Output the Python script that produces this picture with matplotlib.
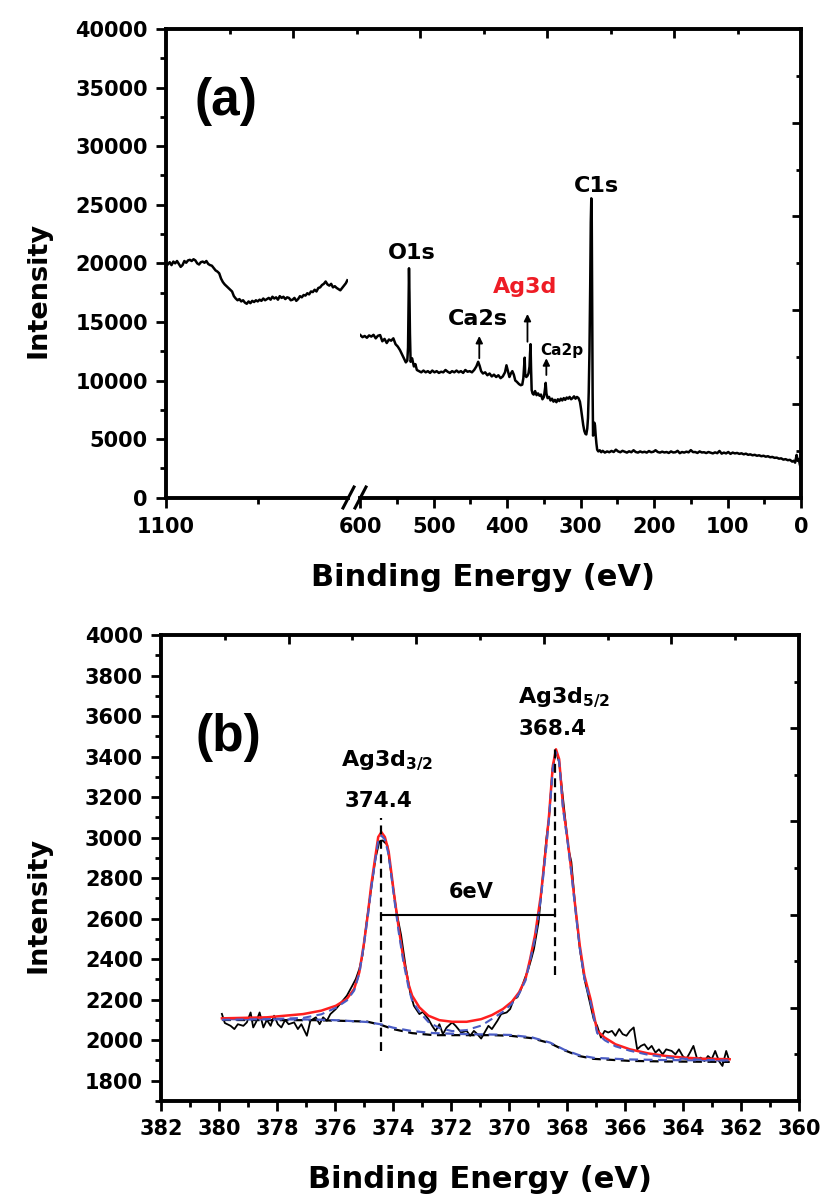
import matplotlib
matplotlib.use("Agg")
import matplotlib.pyplot as plt
from matplotlib.lines import Line2D
from matplotlib.ticker import MultipleLocator, FixedLocator

plt.rcParams['font.family'] = ['DejaVu Sans']
plt.rcParams['font.weight'] = 'bold'
plt.rcParams['mathtext.default'] = 'bf'

# ---- (a) survey spectrum, high-BE segment (left of the axis break)
survey_ev_hi = [1100, 1095, 1090, 1085, 1080, 1075, 1070, 1065, 1060, 1055, 1050, 1045,
                1040, 1035, 1030, 1025, 1020, 1015, 1010, 1005, 1000, 995, 990, 985,
                980, 975, 970, 965, 960, 955, 950, 945, 940, 935, 930, 925, 920, 915,
                910, 905, 900, 895, 890, 885, 880, 875, 870, 865, 860, 855, 850, 845,
                840, 835, 830, 825, 820, 815, 810, 805, 800, 795, 790, 785, 780, 775,
                770, 765, 760, 755, 750, 745, 740, 735, 730, 725, 720, 715, 710, 705,
                700, 695, 690, 685, 680, 675, 670, 665, 660, 655, 650, 645, 640, 635,
                630, 625, 620, 615, 610, 606]
survey_cps_hi = [20050, 19900, 20100, 19850, 20150, 20000, 20200, 19950, 19700, 19850, 20200, 20050,
                 20250, 20300, 20200, 20350, 20250, 20000, 19900, 20100, 20150, 20050, 20200, 19950,
                 19850, 19800, 19600, 19400, 19300, 19150, 18700, 18400, 18200, 18050, 17900, 17750, 17600, 17200,
                 17000, 16850, 16950, 16750, 16850, 16650, 16550, 16750, 16600, 16800, 16700, 16850, 16750, 16900,
                 16800, 17000, 16850, 16950, 17050, 16900, 17150, 17000, 17100, 16900, 17200, 17050, 17150, 16950,
                 17100, 17050, 16850, 16900, 17050, 16800, 16950, 17200, 17100, 17300, 17250, 17450, 17350, 17600,
                 17550, 17750, 17600, 17900, 17950, 18150, 18250, 18450, 18200, 18100, 18250, 17950, 18050, 17900,
                 17800, 17700, 17900, 18100, 18300, 18550]

# ---- (a) survey spectrum, 600-0 eV segment
survey_ev_lo = [600, 597, 594, 591, 588, 585, 582, 579, 576, 573, 570, 567, 564, 561, 558, 555,
                552, 549, 546, 543, 540, 538, 536, 535, 534.3, 533.7, 533.1, 532.4, 531.5, 529.5,
                527, 525, 523, 520, 517, 514, 511, 508, 505, 502, 499, 496, 493, 490, 487,
                484, 481, 478, 475, 472, 469, 466, 463, 460, 457, 454, 451, 448, 445, 442,
                439.5, 437.5, 435.5, 433, 430, 427, 424, 421, 418, 415, 412, 409, 406, 403,
                401, 399, 397, 395, 393, 391, 389, 387, 384, 381.5, 379.5, 378, 376.8, 376.2, 375.5,
                374, 372.5, 371, 369.6, 368.9, 368.2, 367.5, 366.7, 365.5, 364, 362, 360, 358, 356,
                354, 352, 350, 348.5, 347.6, 346.6, 345, 343, 341, 339, 337, 335, 333, 331,
                329, 327, 325, 323, 321, 319, 317, 315, 313, 311, 309, 307, 305, 303, 301,
                299.5, 298, 296.5, 295, 293.5, 292.3, 291, 290, 289, 288, 287, 286.2, 285.5,
                284.9, 284.3, 283.7, 283.1, 282.3, 281.4, 280.5, 279.5, 278.5, 277.5, 276, 274,
                272, 270, 267, 264, 261, 258, 255, 252, 249, 246, 243, 240, 237, 234, 231,
                228, 225, 222, 219, 216, 213, 210, 207, 204, 201, 198, 195, 192, 189, 186,
                183, 180, 177, 174, 171, 168, 165, 162, 159, 156, 153, 150, 147, 144, 141,
                138, 135, 132, 129, 126, 123, 120, 117, 114, 111, 108, 105, 102, 99, 96,
                93, 90, 87, 84, 81, 78, 75, 72, 69, 66, 63, 60, 57, 54, 51,
                48, 45, 42, 39, 36, 33, 30, 27, 24, 21, 18, 15, 12, 10, 8,
                6, 4.5, 3, 1.5, 0]
survey_cps_lo = [13880, 13700, 13800, 13650, 13850, 13750, 13900, 13600, 13820, 13880, 13350, 13550, 13200, 13500, 13400, 13600,
                 13100, 12900, 12600, 12200, 11800, 11550, 11700, 12800, 16500, 19580, 17500, 14000, 11600, 11900,
                 11200, 11400, 10900, 10800, 10700, 10850, 10700, 10800, 10650, 10850, 10700, 10800, 10650, 10750, 10700,
                 10900, 10750, 10650, 10800, 10700, 10850, 10700, 10800, 10650, 10900, 10750, 10800, 10700, 10900, 11200,
                 11600, 11250, 10800, 10600, 10700, 10450, 10600, 10350, 10500, 10300, 10450, 10200, 10350, 10700,
                 11300, 10800, 10300, 10600, 10800, 10500, 10000, 9900, 9700, 9600, 9650, 10200, 11300, 11950, 10500,
                 10300, 10400, 10600, 11200, 12300, 13100, 11000, 9200, 8900, 8800, 9100, 8750, 8900, 8700,
                 8800, 8400, 8600, 9300, 9800, 8900, 8500, 8600, 8300, 8450, 8200, 8350, 8150, 8400,
                 8250, 8450, 8300, 8500, 8350, 8550, 8450, 8600, 8400, 8500, 8650, 8450, 8600, 8500, 8200,
                 7600, 6900, 6200, 5700, 5450, 5400, 5900, 6800, 9000, 12500, 18000, 23500, 25550,
                 24000, 16000, 9000, 5300, 5600, 6400, 6200, 5300, 4600, 4100, 3950, 4050,
                 3880, 4000, 3850, 3950, 3880, 3990, 3900, 4100, 3950, 3880, 4000, 3920, 3850, 3960, 3880,
                 4050, 3900, 3850, 3950, 3870, 3920, 3850, 3980, 3880, 3920, 4050, 3900, 3850, 3930, 3860,
                 3900, 3820, 3950, 3860, 3880, 4000, 3800, 3900, 3850, 3930, 3870, 4060, 3890, 3900, 3820,
                 3950, 3860, 3880, 3810, 3900, 3840, 3780, 3870, 3800, 3990, 3760, 3850, 3780, 3900, 3740,
                 3850, 3780, 3820, 3740, 3790, 3700, 3760, 3660, 3700, 3620, 3660, 3580, 3620, 3540, 3580,
                 3500, 3540, 3450, 3480, 3400, 3420, 3330, 3360, 3250, 3290, 3200, 3230, 3080, 3150, 2990,
                 3650, 3150, 3300, 2800, 2550]

survey_labels = ['O1s', 'Ca2s', 'Ag3d', 'Ca2p', 'C1s']
survey_label_ev = [530.3, 440, 376.2, 326, 279]
survey_label_cps = [20900, 15280, 17940, 12520, 26600]
survey_label_size = [16, 16, 16, 11, 16]
survey_label_color = ['black', 'black', '#ee1c25', 'black', 'black']
arrow_ev = [438, 372.4, 346.7]
arrow_from = [11900, 13310, 10470]
arrow_to = [13800, 15680, 11900]

# ---- (b) Ag 3d high resolution
ag_ev = [379.9, 379.8, 379.6, 379.47, 379.35, 379.16, 379.04, 378.91, 378.82, 378.72, 378.6,
         378.47, 378.35, 378.22, 378.1, 377.97, 377.85, 377.72, 377.6, 377.41, 377.28, 377.16,
         376.97, 376.85, 376.66, 376.53, 376.41, 376.28, 376.16, 375.97, 375.78, 375.59, 375.4,
         375.28, 375.16, 375.05, 374.91, 374.75, 374.6, 374.47, 374.36, 374.2, 374.04, 373.88,
         373.72, 373.57, 373.41, 373.28, 373.09, 372.97, 372.78, 372.65, 372.53, 372.4, 372.28,
         372.15, 371.96, 371.84, 371.65, 371.46, 371.34, 371.21, 371.09, 370.96, 370.84, 370.71,
         370.59, 370.4, 370.27, 370.08, 369.96, 369.83, 369.71, 369.58, 369.46, 369.33, 369.23,
         369.14, 368.98, 368.82, 368.71, 368.62, 368.5, 368.38, 368.27, 368.11, 367.95, 367.85,
         367.72, 367.56, 367.4, 367.24, 367.08, 366.96, 366.83, 366.7, 366.58, 366.45, 366.33,
         366.2, 366.08, 365.95, 365.83, 365.7, 365.58, 365.45, 365.33, 365.2, 365.08, 364.95,
         364.83, 364.7, 364.58, 364.39, 364.26, 364.14, 364.01, 363.89, 363.76, 363.64, 363.51,
         363.39, 363.26, 363.14, 363.01, 362.89, 362.76, 362.64, 362.51, 362.42]
ag_cps = [2130, 2085, 2071, 2055, 2079, 2071, 2088, 2137, 2063, 2090, 2137,
          2063, 2100, 2071, 2121, 2079, 2063, 2100, 2079, 2088, 2055, 2079,
          2022, 2096, 2113, 2079, 2113, 2096, 2129, 2154, 2187, 2220, 2270,
          2303, 2352, 2420, 2584, 2750, 2899, 2981, 2986, 2965, 2799, 2634,
          2518, 2369, 2237, 2170, 2129, 2140, 2104, 2071, 2046, 2079, 2030,
          2063, 2088, 2071, 2038, 2046, 2022, 2046, 2030, 2008, 2038, 2071,
          2055, 2096, 2129, 2137, 2154, 2204, 2212, 2253, 2303, 2352, 2402,
          2450, 2584, 2832, 2998, 3093, 3338, 3428, 3370, 3158, 2945, 2880,
          2667, 2452, 2303, 2204, 2104, 2071, 2013, 2046, 2038, 2046, 2022,
          2055, 2030, 2022, 2046, 2063, 1955, 1972, 1980, 1955, 1972, 1939,
          1955, 1930, 1955, 1947, 1930, 1955, 1922, 1906, 1939, 1972, 1906,
          1914, 1897, 1922, 1906, 1947, 1897, 1873, 1947, 1906]

fit_ev = [379.9, 378.35, 377.1, 376.47, 375.97, 375.59, 375.34, 375.16, 375.0, 374.87, 374.75,
          374.6, 374.51, 374.4, 374.28, 374.15, 373.96, 373.8, 373.64, 373.45, 373.34, 373.09,
          372.78, 372.4, 371.96, 371.46, 370.96, 370.59, 370.21, 369.9, 369.65, 369.43, 369.27,
          369.1, 368.9, 368.74, 368.62, 368.49, 368.38, 368.27, 368.14, 367.98, 367.87, 367.72,
          367.56, 367.4, 367.19, 366.96, 366.7, 366.33, 365.83, 365.2, 364.58, 363.95, 363.33, 362.39]
fit_cps = [2108, 2113, 2129, 2146, 2170, 2204, 2253, 2336, 2480, 2620, 2767,
           2915, 3003, 3027, 3003, 2932, 2717, 2551, 2402, 2270, 2220, 2162,
           2121, 2099, 2091, 2091, 2104, 2124, 2154, 2190, 2237, 2303, 2402,
           2520, 2717, 2932, 3109, 3354, 3436, 3387, 3158, 2990, 2860, 2667,
           2468, 2319, 2204, 2046, 2013, 1980, 1955, 1935, 1922, 1914, 1909, 1906]
comp_cps = [2101, 2104, 2110, 2128, 2160, 2196, 2245, 2330, 2475, 2610, 2750,
            2900, 2985, 3010, 2990, 2915, 2700, 2530, 2385, 2250, 2195, 2140,
            2090, 2060, 2045, 2050, 2072, 2105, 2140, 2180, 2230, 2295, 2395,
            2505, 2700, 2915, 3095, 3340, 3422, 3375, 3145, 2980, 2850, 2655,
            2455, 2305, 2190, 2035, 2000, 1970, 1948, 1928, 1915, 1908, 1903, 1900]

bg_ev = [379.9, 378.0, 376.7, 375.84, 374.9, 374.4, 374.0, 373.34, 372.59, 371.46, 370.59,
         369.96, 369.21, 368.58, 368.08, 367.58, 367.08, 365.83, 364.58, 362.39]
bg_shirley = [2100, 2099, 2099, 2096, 2092, 2075, 2055, 2035, 2025, 2025, 2025,
              2022, 2010, 1985, 1950, 1922, 1908, 1898, 1895, 1893]
bg_fit = [2104, 2103, 2102, 2098, 2090, 2078, 2062, 2045, 2035, 2030, 2028,
          2026, 2014, 1988, 1952, 1926, 1913, 1905, 1902, 1900]

peak_ev = [374.4, 368.4]
peak_names = ['Ag3d$_{3/2}$', 'Ag3d$_{5/2}$']
peak_line_lo = [1947, 2320]
peak_line_hi = [3096, 3460]
split_cps = 2620

W, H = 821, 1196
fig = plt.figure(figsize=(W / 100, H / 100), dpi=100)


def rect(x0, y0, x1, y1):
    return [x0 / W, 1 - y1 / H, (x1 - x0) / W, (y1 - y0) / H]


TICK = 15
SPW = 2.8


def style_frame(fr):
    # mirrored top/right ticks, pointing inwards
    fr.set_xlim(0, 10)
    fr.set_ylim(0, 10)
    fr.patch.set_visible(False)
    for s in ['left', 'bottom']:
        fr.spines[s].set_visible(False)
    for s in ['top', 'right']:
        fr.spines[s].set_linewidth(SPW)
    fr.xaxis.set_major_locator(FixedLocator([2, 4, 6, 8]))
    fr.xaxis.set_minor_locator(FixedLocator([1, 3, 5, 7, 9]))
    fr.yaxis.set_major_locator(FixedLocator([2, 4, 6, 8]))
    fr.yaxis.set_minor_locator(FixedLocator([1, 3, 5, 7, 9]))
    fr.tick_params(which='both', direction='in', width=2, top=True, right=True,
                   bottom=False, left=False, labeltop=False, labelright=False,
                   labelbottom=False, labelleft=False)
    fr.tick_params(which='major', length=6.5)
    fr.tick_params(which='minor', length=3.6)


def style_main(ax):
    ax.patch.set_visible(False)
    for s in ax.spines.values():
        s.set_linewidth(SPW)
    ax.tick_params(which='both', direction='out', width=2, labelsize=TICK)
    ax.tick_params(which='major', length=7)
    ax.tick_params(which='minor', length=4)


# ================= panel (a) =================
top_a, bot_a = 29, 497.7
fa = fig.add_axes(rect(166, top_a, 801, bot_a))
style_frame(fa)

axl = fig.add_axes(rect(166, top_a, 348, bot_a))
axr = fig.add_axes(rect(360, top_a, 801, bot_a))
for ax in (axl, axr):
    style_main(ax)
    ax.set_ylim(0, 40000)
    ax.spines['top'].set_visible(False)
    ax.spines['right'].set_visible(False)

axl.set_xlim(1100, 604.1)
axl.xaxis.set_major_locator(FixedLocator([1100]))
axl.xaxis.set_minor_locator(FixedLocator([850]))
axl.yaxis.set_major_locator(MultipleLocator(5000))
axl.yaxis.set_minor_locator(MultipleLocator(2500))
axl.tick_params(axis='x', pad=7)
axl.tick_params(axis='y', pad=6)
for lab in axl.get_yticklabels() + axl.get_xticklabels():
    lab.set_fontweight('bold')
axl.plot(survey_ev_hi, survey_cps_hi, color='black', lw=1.8)

axr.set_xlim(600.4, 0)
axr.spines['left'].set_visible(False)
axr.tick_params(axis='y', left=False, which='both', labelleft=False)
axr.xaxis.set_major_locator(MultipleLocator(100))
axr.xaxis.set_minor_locator(MultipleLocator(50))
axr.tick_params(axis='x', pad=7)
for lab in axr.get_xticklabels():
    lab.set_fontweight('bold')
axr.plot(survey_ev_lo, survey_cps_lo, color='black', lw=1.8)

for name, ex, ey, fs, c in zip(survey_labels, survey_label_ev, survey_label_cps,
                               survey_label_size, survey_label_color):
    axr.text(ex, ey, name, fontsize=fs, color=c, fontweight='bold',
             ha='center', va='center')
for ex, y0, y1 in zip(arrow_ev, arrow_from, arrow_to):
    axr.annotate('', xy=(ex, y1), xytext=(ex, y0),
                 arrowprops=dict(arrowstyle='-|>', lw=1.3, color='black',
                                 mutation_scale=10, shrinkA=0, shrinkB=0))

# axis break marks
for x0 in (343, 355):
    fig.add_artist(Line2D([x0 / W, (x0 + 11) / W], [1 - 508 / H, 1 - 487 / H],
                          color='black', lw=2.2, transform=fig.transFigure))

fa.text(0.094, 0.846, '(a)', transform=fa.transAxes, fontsize=37,
        family='Liberation Sans', fontweight='bold', ha='center', va='center')
fig.text(39 / W, 1 - 290 / H, 'Intensity', rotation=90, fontsize=19.5,
         fontweight='bold', ha='center', va='center')
fig.text(483 / W, 1 - 578 / H, 'Binding Energy (eV)', fontsize=22,
         fontweight='bold', ha='center', va='center')

# ================= panel (b) =================
fb = fig.add_axes(rect(161, 635, 799, 1101))
style_frame(fb)
axb = fig.add_axes(rect(161, 635, 799, 1101))
style_main(axb)
axb.spines['top'].set_visible(False)
axb.spines['right'].set_visible(False)
axb.set_xlim(382, 360)
axb.set_ylim(1700, 4000)
axb.xaxis.set_major_locator(MultipleLocator(2))
axb.xaxis.set_minor_locator(MultipleLocator(1))
axb.set_yticks(range(1800, 4001, 200))
axb.yaxis.set_minor_locator(MultipleLocator(100))
axb.tick_params(axis='x', pad=6)
axb.tick_params(axis='y', pad=6)
for lab in axb.get_yticklabels() + axb.get_xticklabels():
    lab.set_fontweight('bold')

axb.plot(ag_ev, ag_cps, color='black', lw=1.3, zorder=2)
axb.plot(bg_ev, bg_shirley, color='black', lw=1.6, ls=(0, (4, 2.5)), zorder=3)
axb.plot(bg_ev, bg_fit, color='#4a5cc4', lw=1.6, ls=(3, (4, 2.5)), zorder=3)
axb.plot(fit_ev, fit_cps, color='#ff1f1f', lw=1.8, zorder=4)
axb.plot(fit_ev, comp_cps, color='#4a5cc4', lw=1.5, ls=(0, (4, 2.5)), zorder=5)

for ev, lo, hi in zip(peak_ev, peak_line_lo, peak_line_hi):
    axb.plot([ev, ev], [lo, hi], color='black', lw=1.6, ls=(0, (4, 2.5)), zorder=6)
axb.plot(peak_ev, [split_cps, split_cps], color='black', lw=1.5, zorder=6)
axb.text(371.3, 2733, '6eV', fontsize=15, fontweight='bold', ha='center', va='center')

axb.text(374.2, 3379, peak_names[0], fontsize=16, ha='center', va='center')
axb.text(374.5, 3182, '374.4', fontsize=15.5, fontweight='bold', ha='center', va='center')
axb.text(368.1, 3690, peak_names[1], fontsize=16, ha='center', va='center')
axb.text(368.5, 3534, '368.4', fontsize=15.5, fontweight='bold', ha='center', va='center')

fb.text(0.105, 0.781, '(b)', transform=fb.transAxes, fontsize=37,
        family='Liberation Sans', fontweight='bold', ha='center', va='center')
fig.text(39 / W, 1 - 905 / H, 'Intensity', rotation=90, fontsize=19.5,
         fontweight='bold', ha='center', va='center')
fig.text(480 / W, 1 - 1180 / H, 'Binding Energy (eV)', fontsize=22,
         fontweight='bold', ha='center', va='center')

fig.savefig('out.png', dpi=100)
